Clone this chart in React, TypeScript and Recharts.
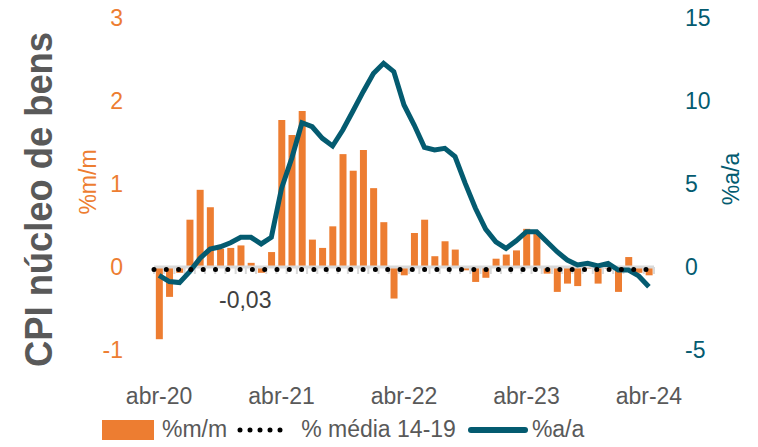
import { ComposedChart, Bar, Line, XAxis, YAxis, ReferenceLine, Legend } from 'recharts';

// monthly, abr-20 .. abr-24
const months = [
  'abr-20', 'mai-20', 'jun-20', 'jul-20', 'ago-20', 'set-20', 'out-20', 'nov-20', 'dez-20',
  'jan-21', 'fev-21', 'mar-21', 'abr-21', 'mai-21', 'jun-21', 'jul-21', 'ago-21', 'set-21', 'out-21', 'nov-21', 'dez-21',
  'jan-22', 'fev-22', 'mar-22', 'abr-22', 'mai-22', 'jun-22', 'jul-22', 'ago-22', 'set-22', 'out-22', 'nov-22', 'dez-22',
  'jan-23', 'fev-23', 'mar-23', 'abr-23', 'mai-23', 'jun-23', 'jul-23', 'ago-23', 'set-23', 'out-23', 'nov-23', 'dez-23',
  'jan-24', 'fev-24', 'mar-24', 'abr-24',
];

// %m/m (left axis)
const mm = [
  -0.87, -0.36, -0.07, 0.57, 0.93, 0.72, 0.22, 0.23, 0.26,
  0.05, -0.07, 0.18, 1.77, 1.59, 1.88, 0.33, 0.23, 0.49, 1.36, 1.16, 1.41,
  0.95, 0.54, -0.38, -0.10, 0.41, 0.57, 0.13, 0.31, 0.21, -0.04, -0.18, -0.13,
  0.10, 0.15, 0.20, 0.46, 0.41, -0.08, -0.30, -0.20, -0.23, -0.02, -0.20, -0.02,
  -0.30, 0.12, -0.07, -0.10,
];

// %a/a (right axis)
const aa = [
  -0.5, -0.88, -0.94, -0.28, 0.52, 1.08, 1.22, 1.46, 1.79,
  1.79, 1.39, 1.79, 4.74, 6.55, 8.69, 8.45, 7.75, 7.29, 8.25, 9.4, 10.56,
  11.66, 12.27, 11.77, 9.76, 8.55, 7.21, 7.05, 7.15, 6.65, 5.04, 3.54, 2.28,
  1.52, 1.12, 1.58, 2.13, 2.13, 1.52, 0.92, 0.42, 0.12, 0.22, 0.06, 0.22,
  -0.18, -0.18, -0.54, -1.19,
];

const media1419 = -0.03;
const xTicks = ['abr-20', 'abr-21', 'abr-22', 'abr-23', 'abr-24'];
const leftTicks = [-1, 0, 1, 2, 3];
const rightTicks = [-5, 0, 5, 10, 15];

const ORANGE = '#ED7D31';
const TEAL = '#045B70';
const GRAY = '#595959';
const FONT = '"Liberation Sans", Arial, sans-serif';

const data = months.map((m, i) => ({ m, mm: mm[i], aa: aa[i] }));

// gray zero axis with small tick marks between months
function ZeroAxis(props: any) {
  const { x1, x2, y1 } = props;
  const n = months.length;
  const step = (x2 - x1) / n;
  const marks = [];
  for (let i = 0; i <= n; i++) {
    const x = x1 + i * step;
    marks.push(<line key={i} x1={x} x2={x} y1={y1} y2={y1 + 7} stroke="#D9D9D9" strokeWidth={2} />);
  }
  return (
    <g>
      <line x1={x1} x2={x2} y1={y1} y2={y1} stroke="#D9D9D9" strokeWidth={3} />
      {marks}
    </g>
  );
}

function LegendBox() {
  return (
    <div style={{ display: 'flex', alignItems: 'center', fontFamily: FONT, fontSize: 23, color: GRAY, whiteSpace: 'nowrap' }}>
      <span style={{ display: 'inline-block', width: 52, height: 20, background: ORANGE, marginRight: 8 }} />
      <span>%m/m</span>
      <svg width={56} height={20} style={{ margin: '0 8px 0 10px' }}>
        <line x1={3} x2={53} y1={10} y2={10} stroke="#000" strokeWidth={5} strokeDasharray="0 10" strokeLinecap="round" />
      </svg>
      <span>% média 14-19</span>
      <svg width={60} height={20} style={{ margin: '0 4px 0 12px' }}>
        <line x1={3} x2={57} y1={10} y2={10} stroke={TEAL} strokeWidth={6} strokeLinecap="round" />
      </svg>
      <span>%a/a</span>
    </div>
  );
}

export default function App() {
  return (
    <div style={{ position: 'absolute', left: 0, top: 0, width: 758, height: 447 }}>
      <ComposedChart width={758} height={447} data={data} margin={{ top: 18, right: 0, left: 0, bottom: 0 }} barCategoryGap="18%">
        <XAxis dataKey="m" ticks={xTicks} interval={0} axisLine={false} tickLine={false} height={97} tickMargin={32}
          tick={{ fill: GRAY, fontSize: 23, fontFamily: FONT }} />
        <YAxis yAxisId="left" domain={[-1, 3]} ticks={leftTicks} width={154} axisLine={false} tickLine={false} tickSize={0} tickMargin={31}
          tick={{ fill: ORANGE, fontSize: 23, fontFamily: FONT }} />
        <YAxis yAxisId="right" orientation="right" domain={[-5, 15]} ticks={rightTicks} width={104} axisLine={false} tickLine={false} tickSize={0} tickMargin={31}
          tick={{ fill: TEAL, fontSize: 23, fontFamily: FONT }} />
        <ReferenceLine yAxisId="left" y={0} shape={ZeroAxis} />
        <Bar yAxisId="left" dataKey="mm" name="%m/m" fill={ORANGE} isAnimationActive={false} />
        <Line yAxisId="right" type="linear" dataKey="aa" name="%a/a" stroke={TEAL} strokeWidth={5} dot={false} isAnimationActive={false} />
        <ReferenceLine yAxisId="left" y={media1419} stroke="#000" strokeWidth={5} strokeDasharray="0 12.3" strokeLinecap="round"
          label={{
            content: (p: any) => (
              <text x={p.viewBox.x + 65} y={p.viewBox.y + 39} fill="#404040" fontSize={23} fontFamily={FONT}>-0,03</text>
            ),
          }} />
        <Legend layout="horizontal" verticalAlign="middle" align="center" content={LegendBox}
          wrapperStyle={{ left: 102, top: 416, width: 'auto' }} />
      </ComposedChart>
      <svg width={758} height={447} style={{ position: 'absolute', left: 0, top: 0, pointerEvents: 'none' }}>
        <text transform="translate(52,199.5) rotate(-90)" textAnchor="middle" fontFamily={FONT} fontWeight="bold" fontSize={39}
          fill={GRAY} textLength={335} lengthAdjust="spacingAndGlyphs">CPI núcleo de bens</text>
        <text transform="translate(96,182) rotate(-90)" textAnchor="middle" fontFamily={FONT} fontSize={23} fill={ORANGE}>%m/m</text>
        <text transform="translate(739,179) rotate(-90)" textAnchor="middle" fontFamily={FONT} fontSize={23} fill={TEAL}>%a/a</text>
      </svg>
    </div>
  );
}
